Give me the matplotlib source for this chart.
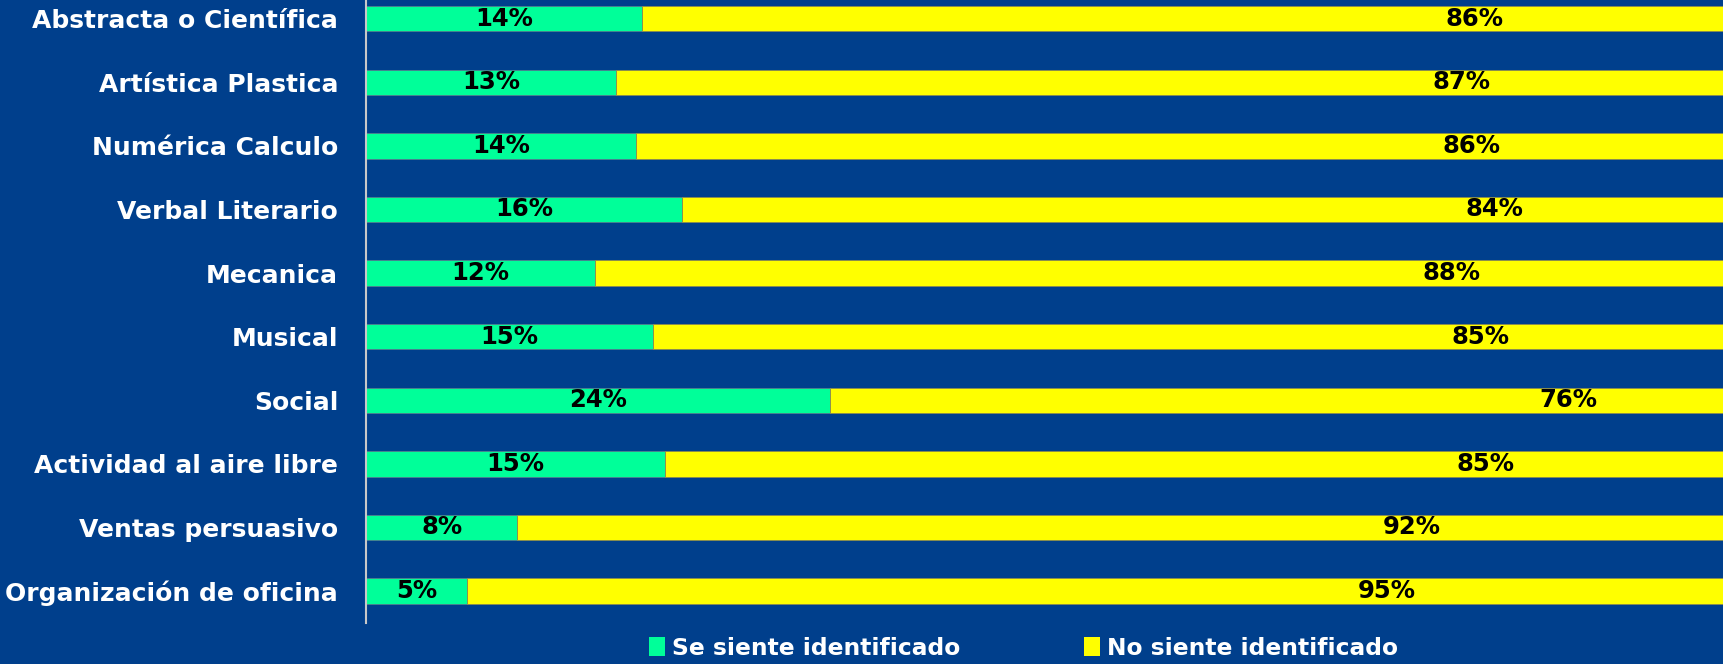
import matplotlib.pyplot as plt
import numpy as np

categories = ['Abstracta o Científica', 'Artística Plastica', 'Numérica Calculo',
              'Verbal Literario', 'Mecanica', 'Musical', 'Social',
              'Actividad al aire libre', 'Ventas persuasivo', 'Organización de oficina']
se_siente = [14.2, 12.9, 13.9, 16.3, 11.8, 14.8, 23.9, 15.4, 7.8, 5.2]
no_siente = [85.8, 87.1, 86.1, 83.7, 88.2, 85.2, 76.1, 84.6, 92.2, 94.8]
series_names = ['Se siente identificado', 'No siente identificado']

BG = '#003F8C'
GREEN = '#00FF99'
YELLOW = '#FFFF00'

plt.rcParams['font.family'] = ['DejaVu Sans']

fig = plt.figure(figsize=(17.23, 6.64), dpi=100, facecolor=BG)
ax = fig.add_axes([366 / 1723, 0.062, 1 - 366 / 1723, 0.9577])
ax.set_facecolor(BG)

y = np.arange(len(categories))
si = np.array(se_siente) / 100
no = np.array(no_siente) / 100

b1 = ax.barh(y, si, height=0.4, color=GREEN, edgecolor='#4f7f8f', linewidth=0.6,
             label=series_names[0])
b2 = ax.barh(y, no, left=si, height=0.4, color=YELLOW, edgecolor='#8a8a50', linewidth=0.6,
             label=series_names[1])

# percent labels centred in each segment
for i in range(len(categories)):
    ax.text(si[i] / 2, y[i], f"{se_siente[i]:.0f}%", ha='center', va='center',
            fontsize=17.5, fontweight='bold', color='black')
    ax.text(si[i] + no[i] / 2, y[i], f"{no_siente[i]:.0f}%", ha='center', va='center',
            fontsize=17.5, fontweight='bold', color='black')

ax.set_ylim(-0.5, len(categories) - 0.5)
ax.invert_yaxis()
ax.set_xlim(0, 1357 / 1941)
ax.set_yticks(y)
ax.set_yticklabels(categories, fontsize=18, fontweight='bold', color='white')
ax.tick_params(axis='y', length=0, pad=20)
ax.set_xticks([])

for side in ['top', 'right', 'bottom']:
    ax.spines[side].set_visible(False)
ax.spines['left'].set_color('#c8c8c8')
ax.spines['left'].set_linewidth(1.5)

leg = fig.legend(handles=[b1, b2], loc='center', bbox_to_anchor=(0.594, 0.024), ncol=2,
                 frameon=False, handlelength=0.7, handleheight=0.9, handletextpad=0.3,
                 columnspacing=5.3, prop={'size': 16.8, 'weight': 'bold'})
for t in leg.get_texts():
    t.set_color('white')
for h in leg.legend_handles:
    h.set_edgecolor('none')

plt.savefig('out.png', facecolor=BG)
plt.close()
